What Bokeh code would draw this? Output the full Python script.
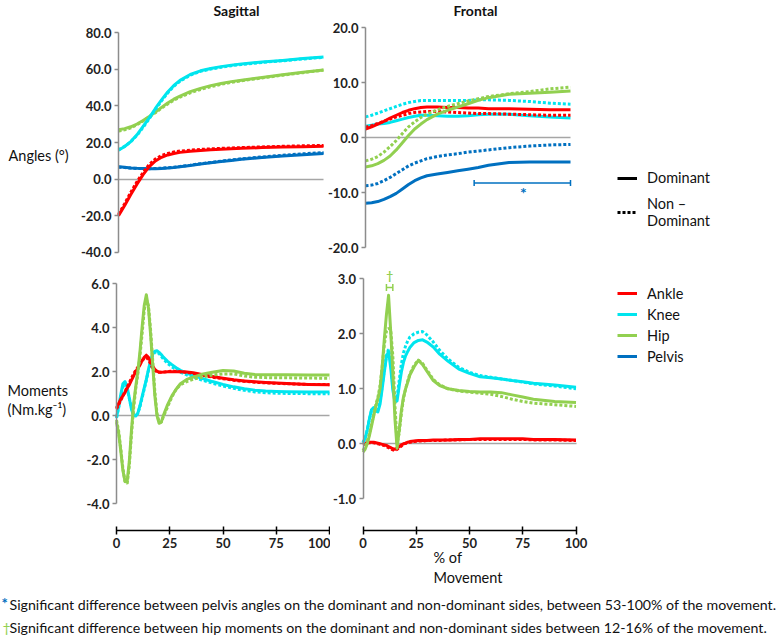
from bokeh.plotting import figure
from bokeh.layouts import column, row
from bokeh.models import (Label, Legend, LegendItem, FixedTicker, LinearAxis,
                          NumeralTickFormatter, Whisker, ColumnDataSource,
                          TeeHead, Range1d)
from bokeh.embed import file_html
from bokeh.resources import INLINE

FONT = "Lato"
RED = "#FF0000"
CYAN = "#00E5EE"
GREEN = "#92D050"
BLUE = "#0070C0"
AXIS_GREY = "#8C8C8C"
TXT = "#111111"
NAN = float("nan")

# ---------------- data ----------------
x_ang = [0, 3, 6, 9, 12, 15, 18, 21, 24, 27, 30, 35, 40, 45, 50, 55, 60, 70, 80, 90, 100]

sag_ang_ankle_d = [-20.0, -14.5, -8.5, -2.8, 2.4, 6.8, 9.9, 11.9, 13.2, 14.0, 14.6, 15.2, 15.6, 16.0, 16.3, 16.6, 16.8, 17.2, 17.5, 17.7, 17.9]
sag_ang_ankle_nd = [-19.3, -13.5, -7.2, -1.5, 3.6, 8.0, 11.0, 12.9, 14.0, 14.8, 15.3, 15.8, 16.2, 16.5, 16.8, 17.0, 17.2, 17.6, 17.9, 18.2, 18.4]
sag_ang_knee_d = [15.8, 17.8, 20.5, 24.2, 28.8, 33.5, 38.6, 43.3, 47.6, 51.2, 54.0, 57.2, 59.2, 60.5, 61.5, 62.3, 63.0, 64.0, 64.9, 65.9, 66.8]
sag_ang_knee_nd = [16.0, 17.9, 20.4, 23.9, 28.3, 33.0, 38.1, 42.8, 47.1, 50.7, 53.5, 56.8, 58.9, 60.2, 61.1, 62.0, 62.7, 63.8, 64.7, 65.7, 66.6]
sag_ang_hip_d = [27.0, 27.6, 28.6, 30.1, 32.0, 34.2, 36.6, 39.2, 41.6, 43.7, 45.4, 47.8, 49.6, 51.1, 52.3, 53.3, 54.1, 55.6, 57.0, 58.4, 59.7]
sag_ang_hip_nd = [26.3, 26.9, 28.0, 29.7, 31.8, 34.0, 36.3, 38.8, 41.1, 43.1, 44.8, 47.2, 49.0, 50.5, 51.8, 52.9, 53.8, 55.3, 56.8, 58.2, 59.6]
sag_ang_pelvis_d = [6.7, 6.4, 6.1, 5.9, 5.8, 5.7, 5.7, 5.8, 6.0, 6.3, 6.7, 7.4, 8.2, 8.9, 9.6, 10.2, 10.8, 11.8, 12.6, 13.3, 14.0]
sag_ang_pelvis_nd = [6.5, 6.3, 6.0, 5.8, 5.7, 5.7, 5.8, 5.9, 6.2, 6.5, 6.9, 7.6, 8.4, 9.1, 9.8, 10.5, 11.1, 12.1, 13.0, 13.8, 14.5]

fro_ang_ankle_d = [1.6, 2.0, 2.5, 3.0, 3.6, 4.1, 4.6, 5.0, 5.3, 5.5, 5.6, 5.6, 5.5, 5.5, 5.4, 5.4, 5.3, 5.3, 5.2, 5.1, 5.1]
fro_ang_ankle_nd = [1.9, 2.2, 2.6, 3.0, 3.4, 3.8, 4.1, 4.4, 4.6, 4.7, 4.8, 4.8, 4.7, 4.6, 4.5, 4.4, 4.4, 4.3, 4.2, 4.1, 4.1]
fro_ang_knee_d = [2.1, 2.3, 2.5, 2.6, 2.8, 3.1, 3.4, 3.7, 3.9, 4.1, 4.1, 4.0, 3.9, 3.9, 4.0, 4.2, 4.3, 4.3, 4.0, 3.8, 3.6]
fro_ang_knee_nd = [3.8, 4.1, 4.5, 4.9, 5.3, 5.7, 6.1, 6.4, 6.6, 6.8, 6.8, 6.8, 6.8, 6.8, 6.8, 6.9, 6.9, 6.8, 6.6, 6.3, 6.1]
fro_ang_hip_d = [-5.3, -5.1, -4.7, -4.1, -3.3, -2.2, -0.9, 0.4, 1.6, 2.5, 3.3, 4.3, 5.0, 5.6, 6.2, 6.8, 7.3, 7.9, 8.1, 8.3, 8.5]
fro_ang_hip_nd = [-4.2, -3.9, -3.4, -2.6, -1.6, -0.5, 0.8, 2.0, 2.9, 3.7, 4.3, 5.1, 5.7, 6.2, 6.7, 7.1, 7.5, 8.0, 8.4, 8.9, 9.2]
fro_ang_pelvis_d = [-11.9, -11.8, -11.6, -11.2, -10.7, -10.1, -9.3, -8.5, -7.8, -7.3, -6.9, -6.6, -6.3, -6.0, -5.7, -5.4, -5.0, -4.5, -4.4, -4.4, -4.4]
fro_ang_pelvis_nd = [-8.7, -8.6, -8.3, -7.8, -7.2, -6.5, -5.8, -5.1, -4.6, -4.2, -3.8, -3.4, -3.1, -2.9, -2.6, -2.4, -2.2, -1.8, -1.5, -1.3, -1.2]

x_mom = [0, 1, 2, 3, 4, 5, 6, 7, 8, 9, 10, 11, 12, 13, 14, 15, 16, 17, 18, 19, 20, 21, 22,
         24, 26, 28, 30, 33, 36, 40, 45, 50, 55, 60, 65, 70, 75, 80, 90, 100]

sag_mom_ankle_d = [0.35, 0.55, 0.75, 0.9, 1.05, 1.25, 1.4, 1.6, 1.8, 2.0, 2.15, 2.3, 2.5, 2.65, 2.75, 2.65, 2.45, 2.25, 2.1, 2.02, 1.98, 1.97, 1.98,
                   2.0, 2.0, 2.0, 2.0, 1.99, 1.95, 1.87, 1.78, 1.7, 1.63, 1.58, 1.54, 1.51, 1.48, 1.46, 1.42, 1.4]
sag_mom_ankle_nd = [0.3, 0.5, 0.7, 0.9, 1.1, 1.3, 1.5, 1.7, 1.9, 2.05, 2.2, 2.35, 2.5, 2.6, 2.65, 2.55, 2.35, 2.15, 2.05, 2.0, 1.97, 1.97, 1.98,
                    2.0, 2.02, 2.02, 2.0, 1.97, 1.92, 1.85, 1.75, 1.68, 1.61, 1.56, 1.52, 1.49, 1.47, 1.45, 1.42, 1.41]
sag_mom_knee_d = [-0.1, 0.4, 0.95, 1.45, 1.55, 1.3, 0.8, 0.3, 0.0, -0.02, 0.1, 0.45, 0.85, 1.25, 1.65, 2.1, 2.5, 2.8, 2.93, 2.95, 2.88, 2.78, 2.66,
                  2.47, 2.32, 2.18, 2.06, 1.93, 1.83, 1.7, 1.55, 1.42, 1.31, 1.22, 1.16, 1.12, 1.1, 1.09, 1.08, 1.07]
sag_mom_knee_nd = [-0.1, 0.35, 0.85, 1.3, 1.45, 1.25, 0.8, 0.35, 0.05, 0.0, 0.1, 0.4, 0.8, 1.2, 1.6, 2.05, 2.45, 2.75, 2.88, 2.9, 2.82, 2.7, 2.58,
                   2.38, 2.22, 2.1, 1.98, 1.85, 1.75, 1.62, 1.48, 1.35, 1.24, 1.15, 1.08, 1.04, 1.02, 1.01, 1.0, 0.99]
sag_mom_hip_d = [-0.3, -0.8, -1.6, -2.5, -3.0, -3.0, -2.1, -0.7, 0.5, 1.3, 2.0, 2.9, 4.0, 5.0, 5.5, 4.9, 3.7, 2.3, 0.9, 0.0, -0.35, -0.3, 0.0,
                 0.5, 0.9, 1.2, 1.45, 1.65, 1.75, 1.88, 1.97, 2.05, 2.03, 1.93, 1.87, 1.86, 1.86, 1.86, 1.85, 1.85]
sag_mom_hip_nd = [-0.2, -0.7, -1.5, -2.4, -3.0, -3.1, -2.3, -0.9, 0.3, 1.2, 1.9, 2.7, 3.7, 4.8, 5.3, 5.0, 3.9, 2.5, 1.1, 0.1, -0.3, -0.3, -0.05,
                  0.4, 0.85, 1.2, 1.4, 1.55, 1.65, 1.75, 1.85, 1.9, 1.9, 1.8, 1.75, 1.73, 1.72, 1.72, 1.71, 1.7]

fro_mom_ankle_d = [0.0, 0.01, 0.02, 0.03, 0.03, 0.03, 0.02, 0.01, 0.0, -0.01, -0.02, -0.03, -0.05, -0.07, -0.09, -0.1, -0.08, -0.05, -0.02, 0.0, 0.01, 0.03, 0.04,
                   0.05, 0.06, 0.06, 0.06, 0.07, 0.07, 0.07, 0.08, 0.08, 0.09, 0.09, 0.09, 0.09, 0.09, 0.08, 0.08, 0.07]
fro_mom_ankle_nd = [-0.02, 0.0, 0.01, 0.02, 0.02, 0.02, 0.01, 0.0, -0.01, -0.02, -0.03, -0.05, -0.07, -0.09, -0.11, -0.12, -0.1, -0.07, -0.04, -0.01, 0.01, 0.02, 0.03,
                    0.04, 0.05, 0.05, 0.06, 0.06, 0.06, 0.07, 0.07, 0.08, 0.08, 0.08, 0.08, 0.08, 0.08, 0.07, 0.07, 0.06]
fro_mom_knee_d = [0.02, 0.1, 0.25, 0.45, 0.62, 0.66, 0.6, 0.58, 0.72, 1.0, 1.3, 1.58, 1.68, 1.38, 0.98, 0.76, 0.78, 1.05, 1.3, 1.48, 1.6, 1.68, 1.75,
                  1.84, 1.88, 1.89, 1.85, 1.76, 1.63, 1.5, 1.36, 1.28, 1.22, 1.2, 1.18, 1.15, 1.13, 1.1, 1.07, 1.03]
fro_mom_knee_nd = [0.02, 0.1, 0.25, 0.45, 0.6, 0.65, 0.62, 0.62, 0.78, 1.05, 1.35, 1.6, 1.72, 1.5, 1.05, 0.82, 0.85, 1.15, 1.45, 1.65, 1.78, 1.87, 1.94,
                   2.0, 2.03, 2.04, 1.98, 1.85, 1.7, 1.54, 1.39, 1.3, 1.24, 1.21, 1.18, 1.15, 1.12, 1.09, 1.05, 1.0]
fro_mom_hip_d = [-0.15, -0.1, 0.0, 0.15, 0.32, 0.5, 0.68, 0.82, 1.0, 1.4, 1.9, 2.35, 2.7, 2.05, 1.3, 0.45, -0.08, 0.25, 0.6, 0.85, 1.0, 1.12, 1.25,
                 1.4, 1.52, 1.44, 1.32, 1.15, 1.06, 1.0, 0.97, 0.95, 0.94, 0.94, 0.93, 0.89, 0.85, 0.81, 0.77, 0.75]
fro_mom_hip_nd = [-0.12, -0.05, 0.05, 0.18, 0.35, 0.52, 0.7, 0.85, 1.05, 1.4, 1.8, 2.05, 2.1, 2.08, 1.6, 0.7, 0.0, 0.2, 0.55, 0.82, 1.0, 1.14, 1.27,
                  1.43, 1.52, 1.46, 1.34, 1.17, 1.07, 1.0, 0.96, 0.94, 0.92, 0.9, 0.86, 0.81, 0.77, 0.74, 0.71, 0.68]

# significance markers
pelvis_sig_range = [53, 100]
pelvis_sig_level = [-8.2]
pelvis_sig_star = [77, -9.9]
hip_sig_range = [11, 14]
hip_sig_level = [2.84]
hip_sig_dagger = [12.5, 3.06]

ang_sag_ticks = [-40, -20, 0, 20, 40, 60, 80]
ang_fro_ticks = [-20, -10, 0, 10, 20]
mom_sag_ticks = [-4, -2, 0, 2, 4, 6]
mom_fro_ticks = [-1, 0, 1, 2, 3]
x_ticks = [0, 25, 50, 75, 100]


# ---------------- layout helpers (page pixel geometry) ----------------
class Panel:
    def __init__(self, fl, fr, ft, fb, xmap, ymap):
        self.fl, self.fr, self.ft, self.fb = fl, fr, ft, fb
        (x0v, x0p), (x1v, x1p) = xmap
        sx = (x1p - x0p) / (x1v - x0v)
        xs = x0v - (x0p - fl) / sx
        xe = x1v + (fr - x1p) / sx
        (yhv, yhp), (ylv, ylp) = ymap
        sy = (ylp - yhp) / (yhv - ylv)
        self.sy, self.yhv, self.yhp = sy, yhv, yhp
        ye = yhv + (yhp - ft) / sy
        ys = ylv - (fb - ylp) / sy
        p = figure(width=fr - fl, height=fb - ft, x_range=Range1d(xs, xe), y_range=Range1d(ys, ye),
                   output_backend="svg", toolbar_location=None, x_axis_type=None, y_axis_type=None,
                   min_border=0)
        p.outline_line_color = None
        p.xgrid.visible = False
        p.ygrid.visible = False
        p.background_fill_color = "white"
        p.border_fill_color = "white"
        self.p = p

    def y_at(self, page_y):
        return self.yhv - (page_y - self.yhp) / self.sy

    def text(self, t, px, py, size="14px", align="left", baseline="middle", color=TXT, style="normal"):
        self.p.add_layout(Label(x=px - self.fl, y=self.fb - py, x_units="screen", y_units="screen",
                                text=t, text_font=FONT, text_font_size=size, text_align=align,
                                text_baseline=baseline, text_color=color, text_font_style=style))

    def legend(self, items, left_px, bottom_px, gh, spacing=0):
        lg = Legend(items=items, location=(left_px - self.fl, self.fb - bottom_px),
                    glyph_width=20, glyph_height=gh, label_height=gh, label_standoff=10,
                    spacing=spacing, padding=0, margin=0, border_line_color=None,
                    background_fill_alpha=0, label_text_font=FONT, label_text_font_size="14.5px",
                    label_text_color=TXT)
        self.p.add_layout(lg)


def y_axis(p, ticks):
    ax = LinearAxis(fixed_location=0, bounds=(ticks[0], ticks[-1]), ticker=FixedTicker(ticks=ticks),
                    formatter=NumeralTickFormatter(format="0.0"))
    ax.axis_line_color = AXIS_GREY
    ax.axis_line_width = 1.5
    ax.major_tick_line_color = AXIS_GREY
    ax.major_tick_line_width = 1.5
    ax.major_tick_in = 0
    ax.major_tick_out = 4
    ax.minor_tick_line_color = None
    ax.major_label_text_font = FONT
    ax.major_label_text_font_size = "13px"
    ax.major_label_text_font_style = "bold"
    ax.major_label_text_color = "#222222"
    ax.major_label_standoff = 3
    p.add_layout(ax, "left")


def zero_line(p):
    ax = LinearAxis(fixed_location=0, bounds=(0, 100), ticker=FixedTicker(ticks=[]))
    ax.axis_line_color = "#A6A6A6"
    ax.axis_line_width = 1.5
    ax.minor_tick_line_color = None
    ax.level = "underlay"
    p.add_layout(ax, "below")


def x_axis(panel, page_y):
    ax = LinearAxis(fixed_location=panel.y_at(page_y), bounds=(0, 100), ticker=FixedTicker(ticks=x_ticks))
    ax.axis_line_color = "black"
    ax.axis_line_width = 1.5
    ax.major_tick_line_color = "black"
    ax.major_tick_line_width = 1.5
    ax.major_tick_in = 4
    ax.major_tick_out = 4
    ax.minor_tick_line_color = None
    ax.major_label_text_font = FONT
    ax.major_label_text_font_size = "13px"
    ax.major_label_text_font_style = "bold"
    ax.major_label_text_color = "#222222"
    ax.major_label_standoff = 3
    panel.p.add_layout(ax, "below")


def add_series(p, x, d, nd, color):
    rd = p.line(x, d, line_color=color, line_width=3, line_join="round")
    p.line(x, nd, line_color=color, line_width=3, line_dash="3 2", line_cap="butt")
    return rd


# ---------- top-left: sagittal angles ----------
TL = Panel(0, 324, 0, 262, ((0, 118), (100, 323)), ((80, 32.3), (-40, 251.7)))
tl = TL.p
zero_line(tl)
y_axis(tl, ang_sag_ticks)
add_series(tl, x_ang, sag_ang_pelvis_d, sag_ang_pelvis_nd, BLUE)
add_series(tl, x_ang, sag_ang_ankle_d, sag_ang_ankle_nd, RED)
add_series(tl, x_ang, sag_ang_hip_d, sag_ang_hip_nd, GREEN)
add_series(tl, x_ang, sag_ang_knee_d, sag_ang_knee_nd, CYAN)
TL.text("Sagittal", 236, 1, size="14px", align="center", baseline="top", style="bold")
TL.text("Angles (°)", 8, 155, size="14.5px")

# ---------- top-right: frontal angles ----------
TR = Panel(324, 778, 0, 262, ((0, 365), (100, 570)), ((20, 27.3), (-20, 247.3)))
tr = TR.p
zero_line(tr)
y_axis(tr, ang_fro_ticks)
add_series(tr, x_ang, fro_ang_pelvis_d, fro_ang_pelvis_nd, BLUE)
add_series(tr, x_ang, fro_ang_knee_d, fro_ang_knee_nd, CYAN)
add_series(tr, x_ang, fro_ang_ankle_d, fro_ang_ankle_nd, RED)
add_series(tr, x_ang, fro_ang_hip_d, fro_ang_hip_nd, GREEN)
TR.text("Frontal", 475, 1, size="14px", align="center", baseline="top", style="bold")

sig1 = ColumnDataSource(dict(base=pelvis_sig_level, lower=[pelvis_sig_range[0]], upper=[pelvis_sig_range[1]]))
tr.add_layout(Whisker(source=sig1, base="base", lower="lower", upper="upper", dimension="width",
                      line_color=BLUE, line_width=1.5,
                      lower_head=TeeHead(size=6, line_color=BLUE, line_width=1.5),
                      upper_head=TeeHead(size=6, line_color=BLUE, line_width=1.5)))
tr.add_layout(Label(x=pelvis_sig_star[0], y=pelvis_sig_star[1], text="*", text_font=FONT,
                    text_font_size="16px", text_font_style="bold", text_color=BLUE,
                    text_align="center", text_baseline="middle"))

r_dom = tr.line(x=[NAN], y=[NAN], line_color="black", line_width=3)
r_nd = tr.line(x=[NAN], y=[NAN], line_color="black", line_width=3, line_dash="3 2", line_cap="butt")
TR.legend([LegendItem(label="Dominant", renderers=[r_dom])], 617, 186, 16)
TR.legend([LegendItem(label="Non –\nDominant", renderers=[r_nd])], 617, 230, 36)

# ---------- bottom-left: sagittal moments ----------
BL = Panel(0, 330, 262, 588, ((0, 116), (100, 329)), ((6, 283.3), (-4, 503)))
bl = BL.p
zero_line(bl)
y_axis(bl, mom_sag_ticks)
x_axis(BL, 530)
add_series(bl, x_mom, sag_mom_knee_d, sag_mom_knee_nd, CYAN)
add_series(bl, x_mom, sag_mom_ankle_d, sag_mom_ankle_nd, RED)
add_series(bl, x_mom, sag_mom_hip_d, sag_mom_hip_nd, GREEN)
BL.text("Moments", 7, 390, size="14.5px")
BL.text("(Nm.kg⁻¹)", 7, 409, size="14.5px")

# ---------- bottom-right: frontal moments ----------
BR = Panel(330, 778, 262, 588, ((0, 362.5), (100, 575.5)), ((3, 278.3), (-1, 498.3)))
br = BR.p
zero_line(br)
y_axis(br, mom_fro_ticks)
x_axis(BR, 530)
r_ankle = add_series(br, x_mom, fro_mom_ankle_d, fro_mom_ankle_nd, RED)
r_knee = add_series(br, x_mom, fro_mom_knee_d, fro_mom_knee_nd, CYAN)
r_hip = add_series(br, x_mom, fro_mom_hip_d, fro_mom_hip_nd, GREEN)
r_pelvis = br.line(x=[NAN], y=[NAN], line_color=BLUE, line_width=3)

sig2 = ColumnDataSource(dict(base=hip_sig_level, lower=[hip_sig_range[0]], upper=[hip_sig_range[1]]))
br.add_layout(Whisker(source=sig2, base="base", lower="lower", upper="upper", dimension="width",
                      line_color=GREEN, line_width=1.5,
                      lower_head=TeeHead(size=7, line_color=GREEN, line_width=1.5),
                      upper_head=TeeHead(size=7, line_color=GREEN, line_width=1.5)))
br.add_layout(Label(x=hip_sig_dagger[0], y=hip_sig_dagger[1], text="†", text_font=FONT,
                    text_font_size="12px", text_font_style="bold", text_color=GREEN,
                    text_align="center", text_baseline="middle"))

BR.legend([LegendItem(label="Ankle", renderers=[r_ankle]),
           LegendItem(label="Knee", renderers=[r_knee]),
           LegendItem(label="Hip", renderers=[r_hip]),
           LegendItem(label="Pelvis", renderers=[r_pelvis])], 617, 366, 20, spacing=1)
BR.text("% of", 433, 557, size="14.5px")
BR.text("Movement", 433, 577, size="14.5px")

# ---------- footnotes ----------
FT = Panel(0, 778, 588, 637, ((0, 0), (1, 778)), ((1, 588), (0, 637)))
FT.text("*", 1, 602, size="15px", color=BLUE, style="bold")
FT.text("Significant difference between pelvis angles on the dominant and non-dominant sides, between 53-100% of the movement.",
        9, 604, size="14.2px")
FT.text("†", 2, 627, size="14px", color=GREEN)
FT.text("Significant difference between hip moments on the dominant and non-dominant sides between 12-16% of the movement.",
        9, 627, size="14.2px")
FT.p.line(x=[NAN], y=[NAN])

layout = column(row(tl, tr), row(bl, br), FT.p)
open("out.html", "w").write(file_html(layout, INLINE))
